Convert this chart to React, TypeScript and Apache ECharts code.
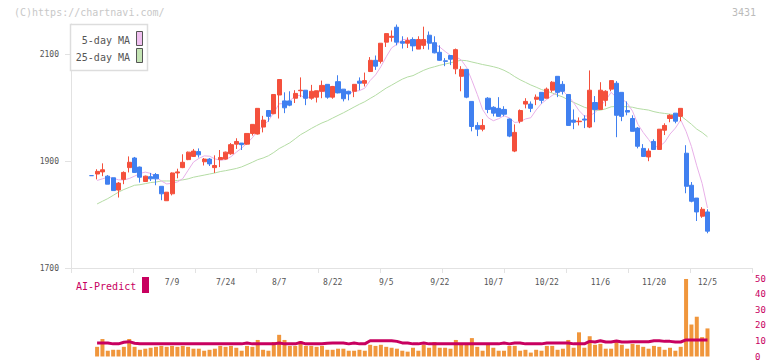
import React, { useEffect, useRef } from 'react';
import * as echarts from 'echarts';

// ---- data ----
const opens = [
  1873, 1876, 1880, 1872, 1869, 1846, 1866, 1888, 1906, 1889,
  1862, 1871, 1875, 1853, 1826, 1839, 1878, 1888, 1903, 1909,
  1918, 1899, 1904, 1888, 1903, 1904, 1914, 1932, 1934, 1932,
  1952, 1951, 1964, 1995, 1989, 2024, 2013, 2013, 2018, 2032,
  2033, 2018, 2020, 2031, 2044, 2020, 2049, 2035, 2031, 2031,
  2050, 2046, 2068, 2089, 2087, 2123, 2132, 2151, 2124, 2121,
  2128, 2110, 2117, 2136, 2122, 2104, 2088, 2098, 2073, 2059,
  2072, 2012, 1967, 1960, 2018, 2001, 1999, 1997, 1979, 1919,
  1975, 2007, 2007, 2016, 2029, 2018, 2033, 2059, 2044, 2025,
  1977, 1974, 1979, 1964, 2010, 1997, 2014, 2035, 2046, 2029,
  1995, 1980, 1962, 1924, 1908, 1937, 1922, 1958, 1980, 1990,
  1984, 1915, 1855, 1831, 1797, 1805,
];
const closes = [
  1873, 1881, 1884, 1857, 1845, 1859, 1879, 1898, 1879, 1870,
  1872, 1867, 1867, 1839, 1842, 1878, 1880, 1898, 1917, 1919,
  1912, 1904, 1895, 1892, 1907, 1917, 1931, 1937, 1931, 1952,
  1969, 1999, 1977, 1984, 2025, 2053, 2000, 2005, 2027, 2033,
  2018, 2031, 2032, 2042, 2020, 2040, 2028, 2017, 2026, 2044,
  2046, 2051, 2089, 2078, 2121, 2139, 2134, 2123, 2121, 2126,
  2116, 2128, 2128, 2121, 2103, 2089, 2087, 2091, 2109, 2072,
  2020, 1965, 1960, 1967, 1997, 1990, 1984, 1988, 1947, 1954,
  1995, 2012, 1999, 2020, 2014, 2035, 2048, 2029, 2031, 1967,
  1973, 1975, 1977, 2033, 1997, 2033, 2031, 2051, 1986, 1984,
  1992, 1956, 1928, 1909, 1919, 1922, 1960, 1967, 1986, 1975,
  1999, 1853, 1825, 1805, 1810, 1769,
];
const lows = [
  1873, 1866, 1872, 1857, 1845, 1832, 1857, 1879, 1878, 1860,
  1861, 1863, 1855, 1827, 1826, 1836, 1868, 1887, 1902, 1908,
  1907, 1892, 1891, 1878, 1889, 1903, 1912, 1923, 1921, 1931,
  1948, 1950, 1954, 1974, 1988, 1980, 1990, 2003, 2009, 2020,
  2005, 2015, 2010, 2018, 2017, 2017, 2027, 2012, 2014, 2020,
  2033, 2040, 2067, 2071, 2083, 2114, 2124, 2117, 2111, 2112,
  2106, 2110, 2110, 2109, 2102, 2088, 2078, 2080, 2063, 2031,
  2018, 1956, 1947, 1956, 1990, 1984, 1984, 1984, 1945, 1917,
  1971, 1999, 1992, 2005, 2008, 2018, 2029, 2020, 2025, 1967,
  1960, 1967, 1962, 1962, 1973, 1997, 2003, 2031, 1945, 1975,
  1986, 1956, 1924, 1908, 1900, 1922, 1922, 1949, 1973, 1971,
  1975, 1840, 1823, 1788, 1794, 1765,
];
const highs = [
  1873, 1885, 1896, 1874, 1869, 1861, 1881, 1909, 1908, 1890,
  1873, 1878, 1878, 1853, 1842, 1879, 1886, 1913, 1918, 1923,
  1924, 1906, 1906, 1911, 1921, 1918, 1934, 1943, 1934, 1952,
  1969, 1999, 1985, 1995, 2025, 2053, 2029, 2031, 2033, 2057,
  2033, 2043, 2032, 2051, 2044, 2041, 2061, 2035, 2032, 2044,
  2057, 2066, 2095, 2098, 2121, 2139, 2145, 2156, 2134, 2132,
  2132, 2134, 2152, 2143, 2134, 2117, 2093, 2098, 2111, 2078,
  2072, 2012, 1973, 1979, 2020, 2003, 2020, 2003, 1980, 1969,
  1997, 2018, 2012, 2025, 2029, 2038, 2050, 2059, 2050, 2025,
  1997, 1982, 1986, 2070, 2022, 2048, 2033, 2051, 2050, 2029,
  2012, 1986, 1964, 1932, 1924, 1941, 1960, 1971, 1988, 1990,
  1999, 1930, 1861, 1831, 1814, 1810,
];
const volumes = [
  null, 6.2, 11.2, 3.7, 4.3, 4.3, 6.2, 11.2, 6.2, 4.3,
  5.0, 5.6, 6.2, 6.8, 6.2, 6.8, 6.2, 6.8, 6.2, 5.0,
  5.0, 3.7, 4.3, 5.0, 6.8, 6.2, 6.8, 5.6, 3.7, 6.8,
  6.2, 10.6, 4.3, 3.7, 9.3, 13.9, 10.6, 6.8, 6.8, 9.9,
  6.8, 6.8, 6.2, 6.8, 4.3, 4.3, 5.0, 5.0, 3.7, 3.7,
  4.3, 3.7, 7.5, 6.8, 7.5, 6.2, 5.6, 5.0, 3.7, 3.1,
  5.6, 3.7, 7.5, 5.6, 9.3, 5.6, 5.6, 5.0, 10.6, 7.5,
  7.5, 11.8, 6.2, 3.7, 7.5, 5.6, 3.7, 3.7, 6.8, 6.8,
  3.7, 4.3, 2.5, 4.3, 3.7, 6.8, 6.8, 4.3, 5.0, 10.6,
  5.6, 15.5, 5.6, 13.0, 7.5, 8.1, 5.0, 5.0, 9.3, 7.5,
  5.0, 8.1, 7.5, 6.2, 5.0, 6.8, 6.2, 4.3, 5.6, 3.7,
  6.2, 49.7, 20.5, 25.5, 12.4, 18.0,
];
const aiPredict = [
  null, 8.7, 8.7, 8.7, 8.1, 8.1, 9.1, 9.5, 8.5, 8.1,
  8.1, 8.1, 8.1, 8.1, 8.1, 8.1, 8.1, 8.1, 8.1, 8.1,
  8.1, 8.1, 8.1, 8.1, 8.1, 8.1, 8.1, 8.1, 8.1, 8.7,
  8.1, 8.1, 8.1, 8.1, 8.1, 8.7, 8.1, 8.1, 8.1, 9.0,
  8.1, 8.1, 8.1, 8.1, 8.5, 8.7, 8.7, 8.7, 8.1, 8.7,
  8.1, 8.1, 10.1, 10.1, 10.1, 10.1, 10.1, 9.7, 8.7, 8.7,
  8.1, 8.1, 8.7, 8.1, 8.1, 8.1, 8.1, 8.1, 8.1, 8.1,
  8.1, 8.1, 8.1, 8.1, 8.1, 8.1, 8.1, 8.7, 8.1, 8.7,
  8.7, 8.1, 8.1, 8.1, 8.1, 8.7, 8.7, 8.7, 8.7, 8.7,
  8.1, 8.1, 8.1, 9.7, 9.3, 10.1, 9.3, 9.3, 9.9, 9.3,
  9.3, 9.5, 9.5, 9.5, 9.5, 10.1, 10.1, 9.7, 9.7, 9.3,
  9.3, 10.6, 10.6, 10.6, 10.6, 10.6,
];
// moving averages at the left edge (depend on days before the window)
const ma5Lead = [null, 1864, 1867, 1870];
const ma25Lead = [
  null, 1820, 1825, 1830, 1836, 1842, 1847, 1851, 1855, 1856,
  1858, 1860, 1861, 1863, 1863, 1863, 1864, 1865, 1867, 1870,
  1872, 1874, 1876, 1878,
];
const tickLabels = ['7/9', '7/24', '8/7', '8/22', '9/5', '9/22', '10/7', '10/22', '11/6', '11/20', '12/5'];
const firstLabelIndex = 15;
const labelStep = 10;
const yLabelValues = [1700, 1900, 2100];
const volumeLabelMax = 50;

const PAD_BEFORE = 3;
const PAD_AFTER = 8;

const RED = '#f4503c';
const BLUE = '#4080f0';
const PINK = '#e8b0e8';
const GREEN = '#b4dca4';
const CRIMSON = '#c8005f';
const ORANGE = '#f0963c';
const MONO = '"DejaVu Sans Mono", monospace';

function movingAverage(period: number, lead: (number | null)[]) {
  return closes.map((_, i) => {
    if (i < lead.length) return lead[i];
    let s = 0;
    for (let k = i - period + 1; k <= i; k++) s += closes[k];
    return Math.round((s / period) * 10) / 10;
  });
}

export default function App() {
  const ref = useRef<HTMLDivElement>(null);
  useEffect(() => {
    document.body.style.margin = '0';
    const chart = echarts.init(ref.current!, null, { renderer: 'svg' });
    const n = closes.length;
    const total = PAD_BEFORE + n + PAD_AFTER;
    const cats = Array.from({ length: total }, (_, k) => 'c' + k);
    const labelMap: Record<number, string> = {};
    tickLabels.forEach((t, j) => {
      labelMap[PAD_BEFORE + firstLabelIndex + j * labelStep] = t;
    });
    const pad = (arr: any[]) => [
      ...Array(PAD_BEFORE).fill('-'),
      ...arr.map((v) => (v === null ? '-' : v)),
      ...Array(PAD_AFTER).fill('-'),
    ];
    const candles = pad(closes.map((c, i) => [opens[i], c, lows[i], highs[i]]));
    const ma5 = pad(movingAverage(5, ma5Lead));
    const ma25 = pad(movingAverage(25, ma25Lead));
    const yMax = Math.max(...highs) + 1;

    chart.setOption({
      animation: false,
      grid: [
        { left: 73, right: 19, top: 24, bottom: 93 },
        { left: 71, right: 20, top: 24, bottom: 93 },
        { left: 73, right: 19, top: 278.5, bottom: 2 },
      ],
      xAxis: [
        {
          type: 'category', gridIndex: 0, data: cats, boundaryGap: true,
          axisLine: { show: false }, axisTick: { show: false }, splitLine: { show: false },
          axisLabel: {
            interval: (idx: number) => labelMap[idx] !== undefined,
            formatter: (_v: string, idx: number) => labelMap[idx] ?? '',
            fontFamily: MONO, fontSize: 8, color: '#555', margin: 10,
          },
        },
        {
          type: 'value', gridIndex: 1, min: 0, max: 11, interval: 1,
          axisLine: { show: true, lineStyle: { color: '#e2e2e2', width: 1 } },
          axisTick: { show: true, length: 5, lineStyle: { color: '#e2e2e2' } },
          axisLabel: { show: false }, splitLine: { show: false },
        },
        { type: 'category', gridIndex: 2, data: cats, boundaryGap: true, show: false },
      ],
      yAxis: [
        {
          type: 'value', gridIndex: 0, min: 1700, max: yMax, offset: 2,
          axisLine: { show: true, lineStyle: { color: '#e2e2e2', width: 1 } },
          axisTick: { show: true, length: 6, customValues: yLabelValues, lineStyle: { color: '#e2e2e2' } },
          axisLabel: {
            customValues: yLabelValues, fontFamily: MONO, fontSize: 8, color: '#555', margin: 12,
            formatter: (v: number) => String(v),
          },
          splitLine: { show: false },
        },
        { type: 'value', gridIndex: 1, min: 0, max: 1, show: false },
        {
          type: 'value', gridIndex: 2, position: 'right', min: 0, max: volumeLabelMax, interval: 10,
          axisLine: { show: false }, axisTick: { show: false }, splitLine: { show: false },
          axisLabel: { fontFamily: MONO, fontSize: 9, color: CRIMSON, margin: 2 },
        },
      ],
      series: [
        {
          type: 'line', name: '25-day MA', xAxisIndex: 0, yAxisIndex: 0, data: ma25,
          symbol: 'none', lineStyle: { color: GREEN, width: 1 }, z: 1,
        },
        {
          type: 'line', name: '5-day MA', xAxisIndex: 0, yAxisIndex: 0, data: ma5,
          symbol: 'none', lineStyle: { color: PINK, width: 1 }, z: 1,
        },
        {
          type: 'candlestick', xAxisIndex: 0, yAxisIndex: 0, data: candles, barWidth: 4.6, z: 3,
          itemStyle: { color: RED, color0: BLUE, borderColor: RED, borderColor0: BLUE, borderWidth: 1 },
        },
        {
          type: 'bar', xAxisIndex: 2, yAxisIndex: 2, data: pad(volumes), barWidth: 4,
          itemStyle: { color: ORANGE },
        },
        {
          type: 'line', xAxisIndex: 2, yAxisIndex: 2, data: pad(aiPredict), symbol: 'none',
          lineStyle: { color: CRIMSON, width: 3 }, z: 4,
        },
      ],
      graphic: [
        {
          type: 'text', x: 14, y: 12, z: 100,
          style: { text: '(C)https://chartnavi.com/', fill: '#c8c8c8', font: '10px ' + MONO, textVerticalAlign: 'middle' },
        },
        {
          type: 'text', x: 756, y: 12, z: 100,
          style: { text: '3431', fill: '#bbb', font: '10px ' + MONO, textAlign: 'right', textVerticalAlign: 'middle' },
        },
        {
          type: 'rect', z: 100, shape: { x: 70.5, y: 24.5, width: 77, height: 46 },
          style: { fill: '#fff', stroke: '#dddddd', lineWidth: 1.5 },
        },
        {
          type: 'text', x: 130, y: 40, z: 101,
          style: { text: '5-day MA', fill: '#555', font: '10px ' + MONO, textAlign: 'right', textVerticalAlign: 'middle' },
        },
        {
          type: 'text', x: 130, y: 57, z: 101,
          style: { text: '25-day MA', fill: '#555', font: '10px ' + MONO, textAlign: 'right', textVerticalAlign: 'middle' },
        },
        {
          type: 'rect', z: 101, shape: { x: 136.5, y: 31.5, width: 6, height: 14 },
          style: { fill: '#f0c0f0', stroke: '#555', lineWidth: 1 },
        },
        {
          type: 'rect', z: 101, shape: { x: 136.5, y: 48.5, width: 6, height: 14 },
          style: { fill: '#c4e4b4', stroke: '#555', lineWidth: 1 },
        },
        {
          type: 'text', x: 76, y: 286, z: 100,
          style: { text: 'AI-Predict', fill: CRIMSON, font: '10px ' + MONO, textVerticalAlign: 'middle' },
        },
        {
          type: 'rect', z: 100, shape: { x: 142, y: 277, width: 7, height: 16 },
          style: { fill: CRIMSON },
        },
      ],
    });
    return () => chart.dispose();
  }, []);
  return <div ref={ref} style={{ width: 772, height: 361 }} />;
}
